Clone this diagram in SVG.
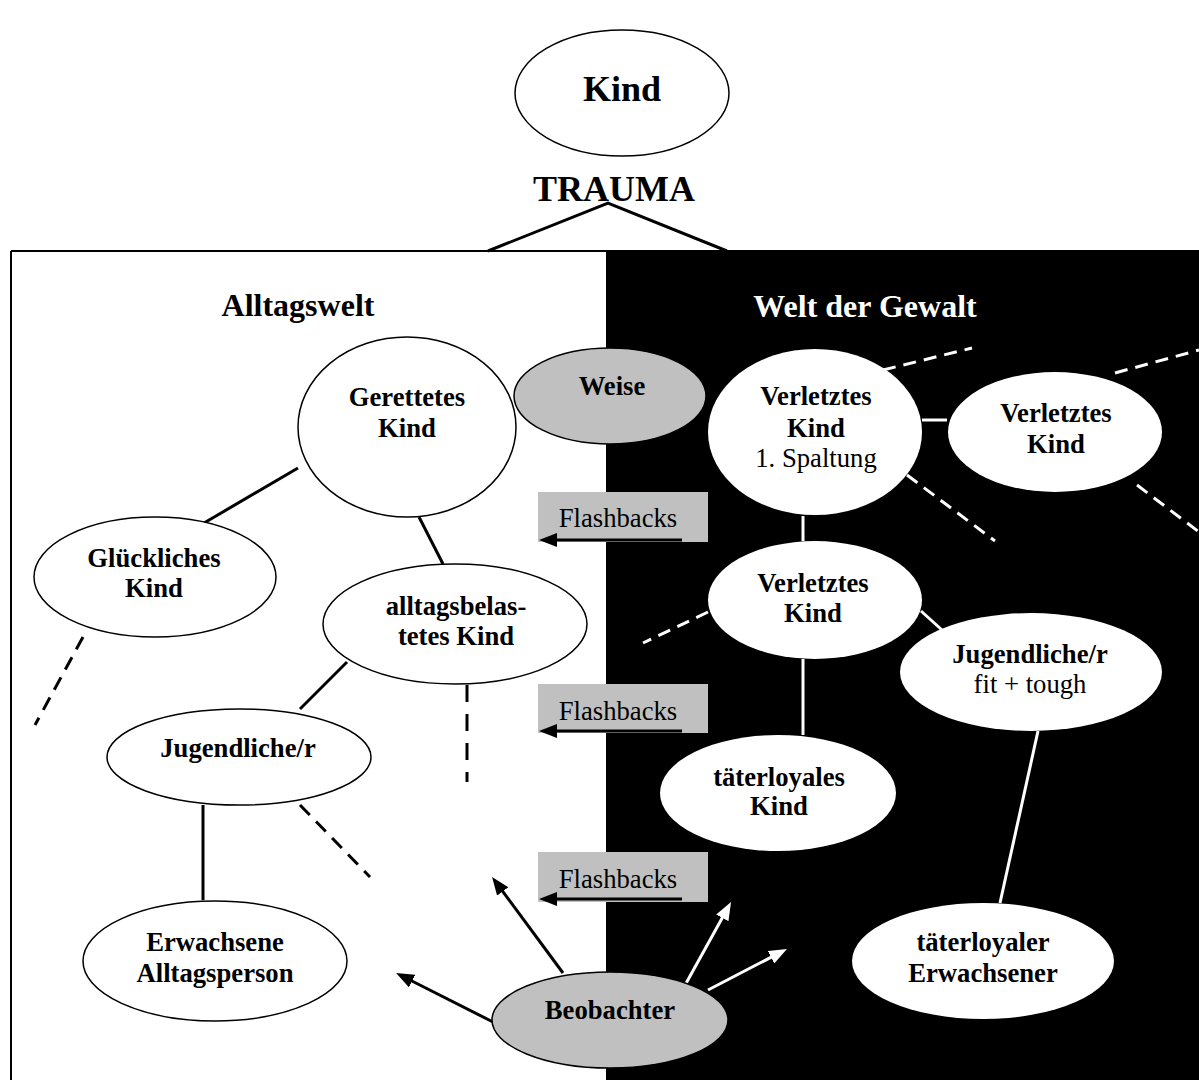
<svg xmlns="http://www.w3.org/2000/svg" width="1199" height="1080" viewBox="0 0 1199 1080">
<style>
text{font-family:"Liberation Serif","Times New Roman",serif;text-anchor:middle}
.b{font-weight:bold;font-size:26.67px}
.r{font-size:26.67px}
.bw{fill:#fff}
.ew{fill:#fff;stroke:#000;stroke-width:1.5}
.ewd{fill:#fff;stroke:none}
.eg{fill:#c0c0c0;stroke:#000;stroke-width:1.5}
.ln{stroke:#000;stroke-width:3;fill:none}
.lw{stroke:#fff;stroke-width:3;fill:none}
.dk{stroke:#000;stroke-width:3;stroke-dasharray:14 9;fill:none}
.dw{stroke:#fff;stroke-width:3;stroke-dasharray:13 8;fill:none}
.fb{fill:#c0c0c0}
</style>
<defs>
<marker id="ab" viewBox="0 0 18 14" refX="8" refY="7" markerWidth="18" markerHeight="14" markerUnits="userSpaceOnUse" orient="auto"><path d="M0,0 L18,7 L0,14 z" fill="#000"/></marker>
<marker id="aw" viewBox="0 0 18 14" refX="8" refY="7" markerWidth="18" markerHeight="14" markerUnits="userSpaceOnUse" orient="auto"><path d="M0,0 L18,7 L0,14 z" fill="#fff"/></marker>
</defs>
<rect x="0" y="0" width="1199" height="1080" fill="#fff"/>
<g id="frame">
<rect x="606" y="250" width="593" height="830" fill="#000"/>
<line x1="11" y1="251" x2="606" y2="251" stroke="#000" stroke-width="2"/>
<line x1="11" y1="251" x2="11" y2="1080" stroke="#000" stroke-width="2"/>
</g>
<g id="headings">
<text x="614" y="201" style="font-weight:bold;font-size:36px">TRAUMA</text>
<text x="298" y="316" style="font-weight:bold;font-size:32px">Alltagswelt</text>
<text x="865" y="317" class="bw" style="font-weight:bold;font-size:32px">Welt der Gewalt</text>
</g>
<g id="connectors">
<polyline class="ln" points="488,251 608,203 727,251"/>
<line class="ln" x1="298" y1="468" x2="204" y2="523"/>
<line class="ln" x1="419" y1="517" x2="443" y2="564"/>
<line class="ln" x1="347" y1="662" x2="300" y2="709"/>
<line class="ln" x1="203" y1="805" x2="203" y2="900"/>
<line class="dk" x1="83" y1="637" x2="35" y2="725"/>
<line class="dk" x1="467" y1="685" x2="467" y2="782" style="stroke-dasharray:17 12"/>
<line class="dk" x1="300" y1="805" x2="370" y2="877"/>
<line class="lw" x1="922" y1="420" x2="947" y2="420"/>
<line class="lw" x1="803" y1="516" x2="803" y2="541"/>
<line class="lw" x1="803" y1="659" x2="803" y2="735"/>
<line class="lw" x1="921" y1="611" x2="942" y2="630"/>
<line class="lw" x1="1038" y1="731" x2="1000" y2="903"/>
<line class="dw" x1="883" y1="370" x2="972" y2="348"/>
<line class="dw" x1="1115" y1="373" x2="1199" y2="350"/>
<line class="dw" x1="907" y1="475" x2="995" y2="541"/>
<line class="dw" x1="1137" y1="485" x2="1199" y2="532"/>
<line class="dw" x1="708" y1="612" x2="643" y2="643"/>
<line class="ln" x1="493" y1="1022" x2="405" y2="977.5" marker-end="url(#ab)"/>
<line class="ln" x1="563" y1="973" x2="498" y2="885" marker-end="url(#ab)"/>
<line class="lw" x1="684" y1="987" x2="726.2" y2="910.8" marker-end="url(#aw)"/>
<line class="lw" x1="708" y1="990" x2="778.1" y2="953.6" marker-end="url(#aw)"/>
</g>
<g id="flashbacks1">
<rect class="fb" x="538" y="492" width="170" height="50"/>
<text class="r" x="618" y="527">Flashbacks</text>
<line class="ln" x1="682" y1="540" x2="549" y2="540" marker-end="url(#ab)"/>
</g>
<g id="flashbacks2">
<rect class="fb" x="538" y="684" width="170" height="49"/>
<text class="r" x="618" y="720">Flashbacks</text>
<line class="ln" x1="682" y1="731" x2="549" y2="731" marker-end="url(#ab)"/>
</g>
<g id="flashbacks3">
<rect class="fb" x="538" y="852" width="170" height="50"/>
<text class="r" x="618" y="888">Flashbacks</text>
<line class="ln" x1="682" y1="899" x2="549" y2="899" marker-end="url(#ab)"/>
</g>
<g id="kind">
<ellipse class="ew" cx="622" cy="93" rx="107" ry="63"/>
<text x="622" y="101" style="font-weight:bold;font-size:36px">Kind</text>
</g>
<g id="gerettetes">
<ellipse class="ew" cx="407" cy="427" rx="109" ry="90"/>
<text class="b" x="407" y="406">Gerettetes</text>
<text class="b" x="407" y="437">Kind</text>
</g>
<g id="glueckliches">
<ellipse class="ew" cx="155" cy="577" rx="121" ry="60"/>
<text class="b" x="154" y="567">Glückliches</text>
<text class="b" x="154" y="597">Kind</text>
</g>
<g id="alltagsbelastet">
<ellipse class="ew" cx="455" cy="624" rx="132" ry="60"/>
<text class="b" x="456" y="615">alltagsbelas-</text>
<text class="b" x="456" y="645">tetes Kind</text>
</g>
<g id="jugendliche-links">
<ellipse class="ew" cx="239" cy="757" rx="132" ry="48"/>
<text class="b" x="238" y="757">Jugendliche/r</text>
</g>
<g id="erwachsene">
<ellipse class="ew" cx="215" cy="961" rx="132" ry="60"/>
<text class="b" x="215" y="951">Erwachsene</text>
<text class="b" x="215" y="982">Alltagsperson</text>
</g>
<g id="weise">
<ellipse class="eg" cx="610" cy="396" rx="96" ry="48"/>
<text class="b" x="612" y="395">Weise</text>
</g>
<g id="beobachter">
<ellipse class="eg" cx="610" cy="1020" rx="118" ry="48"/>
<text class="b" x="610" y="1019">Beobachter</text>
</g>
<g id="verletztes1">
<ellipse class="ewd" cx="815" cy="432" rx="107" ry="83"/>
<text class="b" x="816" y="405">Verletztes</text>
<text class="b" x="816" y="437">Kind</text>
<text class="r" x="816" y="467">1. Spaltung</text>
</g>
<g id="verletztes2">
<ellipse class="ewd" cx="1055" cy="432" rx="107" ry="60"/>
<text class="b" x="1056" y="422">Verletztes</text>
<text class="b" x="1056" y="453">Kind</text>
</g>
<g id="verletztes3">
<ellipse class="ewd" cx="815" cy="600" rx="107" ry="59"/>
<text class="b" x="813" y="592">Verletztes</text>
<text class="b" x="813" y="622">Kind</text>
</g>
<g id="jugendliche-fit">
<ellipse class="ewd" cx="1031" cy="672" rx="131" ry="59"/>
<text class="b" x="1030" y="663">Jugendliche/r</text>
<text class="r" x="1030" y="693">fit + tough</text>
</g>
<g id="taeterloyales-kind">
<ellipse class="ewd" cx="778" cy="793" rx="118" ry="58"/>
<text class="b" x="779" y="786">täterloyales</text>
<text class="b" x="779" y="815">Kind</text>
</g>
<g id="taeterloyaler-erwachsener">
<ellipse class="ewd" cx="983" cy="961" rx="131" ry="58"/>
<text class="b" x="983" y="951">täterloyaler</text>
<text class="b" x="983" y="982">Erwachsener</text>
</g>
</svg>
